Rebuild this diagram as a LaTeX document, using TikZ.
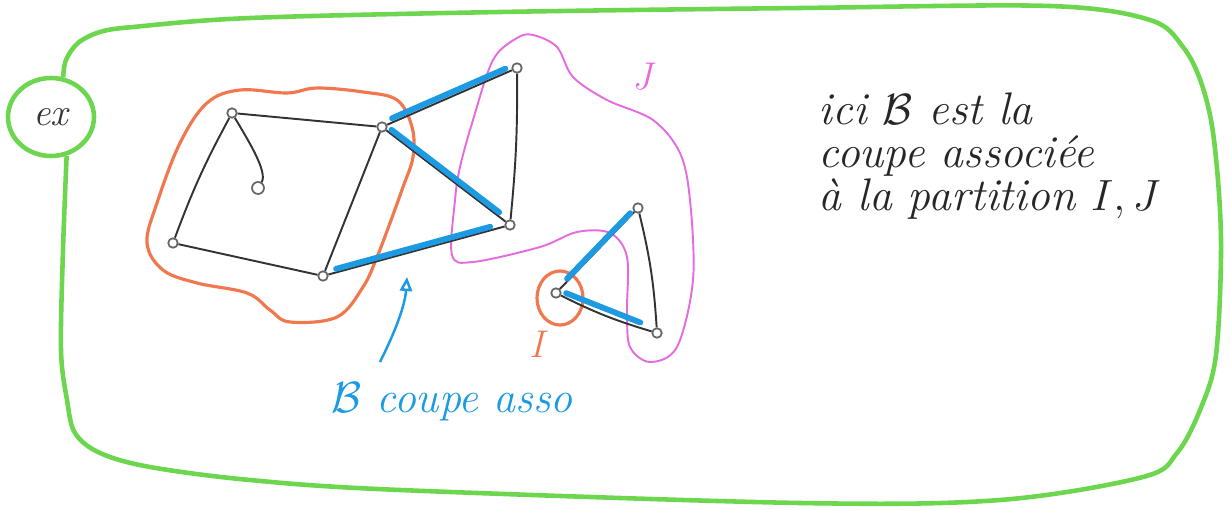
\documentclass[tikz,border=0pt]{standalone}
\usepackage{fontspec}
\usepackage{tikz}
\usetikzlibrary{arrows.meta, calc, shapes.geometric}
\definecolor{framegreen}{HTML}{6BD64E}
\definecolor{cutblue}{HTML}{1C9AE2}
\definecolor{partorange}{HTML}{F1774F}
\definecolor{partpink}{HTML}{E46CDE}
\tikzset{
	vtx/.style={circle, draw=black!60, line width=1pt, fill=white, inner sep=0pt, minimum size=0.19cm}
}
\tikzset{
	cutedge/.style={line width=3.3pt, color=cutblue, line cap=round}
}
\tikzset{
	handtext/.style={font=\fontsize{22}{24}\selectfont\itshape}
}

\begin{document}
\begin{tikzpicture}[x=0.02cm, y=-0.02cm, line width=1.1pt]
      \useasboundingbox (0,0) rectangle (1231,510);
      % ex bubble and green frame
      \node[ellipse, draw=framegreen, line width=2.6pt, minimum width=1.72cm, minimum height=1.56cm,
            handtext, text=black!80] (ex) at (51,117) {ex};
      \draw[framegreen, line width=2.6pt] plot[smooth, tension=0.55] coordinates {
        (ex.73) (66,60) (78,43) (100,32) (133,27) (250,18) (500,12) (800,8) (1050,6) (1150,20)
        (1183,47) (1202,85) (1214,140) (1221,240) (1216,355) (1200,410) (1177,453)
        (1143,477) (1000,500) (800,503) (400,490) (250,480) (150,467) (100,453)
        (75,433) (67,400) (61,350) (63,250) (ex.-68)};
      % partition I (orange) and J (pink)
      \draw[partorange, line width=1.8pt] plot[smooth cycle, tension=0.6] coordinates {
        (240,90) (287,93) (317,88) (363,92) (397,100) (412,127) (413,157) (403,187)
        (390,223) (377,257) (363,287) (337,317) (290,322) (270,310) (247,293)
        (197,283) (163,270) (147,243) (157,203) (180,143) (207,103)};
      \draw[partpink, line width=1.1pt] plot[smooth cycle, tension=0.55] coordinates {
        (517,38) (533,35) (557,47) (573,77) (607,100) (653,120) (680,153) (690,200)
        (693,280) (677,347) (650,362) (630,347) (627,313) (627,257) (610,233)
        (577,232) (540,247) (473,262) (452,255) (455,200) (460,167) (473,120) (493,60)};
      \draw[partorange, line width=1.8pt] (560,298) ellipse [x radius=23, y radius=27];
      % vertices
      \node[vtx] (a) at (232,113) {};
      \node[vtx, minimum size=0.24cm] (b) at (258,188) {};
      \node[vtx] (c) at (173,243) {};
      \node[vtx] (d) at (323,276) {};
      \node[vtx] (e) at (382,127) {};
      \node[vtx] (f) at (517,68) {};
      \node[vtx] (g) at (510,225) {};
      \node[vtx] (h) at (638,208) {};
      \node[vtx] (k) at (556,293) {};
      \node[vtx] (l) at (657,333) {};
      % black edges
      \draw[black!80] (a) .. controls (248,140) and (268,172) .. (b);
      \draw[black!80] (a) -- (e);
      \draw[black!80] (a) to[bend right=4] (c);
      \draw[black!80] (c) -- (d);
      \draw[black!80] (d) -- (e);
      \draw[black!80] (e) -- (f);
      \draw[black!80] (f) to[bend left=3] (g);
      \draw[black!80] (e) -- (g);
      \draw[black!80] (d) -- (g);
      \draw[black!80] (k) -- (h);
      \draw[black!80] (k) to[bend right=5] (l);
      \draw[black!80] (h) to[bend left=5] (l);
      % the cut B
      \draw[cutedge, shorten <=3pt, shorten >=4pt, transform canvas={yshift=2.5pt}] (e) -- (f);
      \draw[cutedge, shorten <=2pt, shorten >=6pt, transform canvas={shift={(1.2pt,1.6pt)}}] (e) -- (g);
      \draw[cutedge, shorten <=4pt, shorten >=9pt, transform canvas={shift={(0.5pt,2.2pt)}}] (d) -- (g);
      \draw[cutedge, shorten <=7pt, shorten >=2pt, transform canvas={shift={(-0.8pt,0.8pt)}}] (k) -- (h);
      \draw[cutedge, shorten <=3pt, shorten >=7pt, transform canvas={yshift=2.2pt}] (k) -- (l);
      % labels
      \node[handtext, text=partorange] (labI) at (537,344) {I};
      \node[handtext, text=partpink] (labJ) at (642,77) {J};
      \node[handtext, text=cutblue, font=\fontsize{25}{26}\selectfont\itshape] (labB) at (452,402) {$\mathcal{B}$ coupe asso};
      \coordinate (tail) at (380,362);
      \coordinate (tip) at (407,277);
      \draw[cutblue, line width=1.4pt, -{Triangle[open, length=8pt, width=7pt]}]
        (tail) .. controls (396,330) and (405,305) .. (tip);
      \node[handtext, text=black!85, anchor=north west, align=left,
            font=\fontsize{26}{24.5}\selectfont\itshape] (note) at (812,86)
        {ici $\mathcal{B}$ est la\\coupe associée\\à la partition $I, J$};
    \end{tikzpicture}
\end{document}
